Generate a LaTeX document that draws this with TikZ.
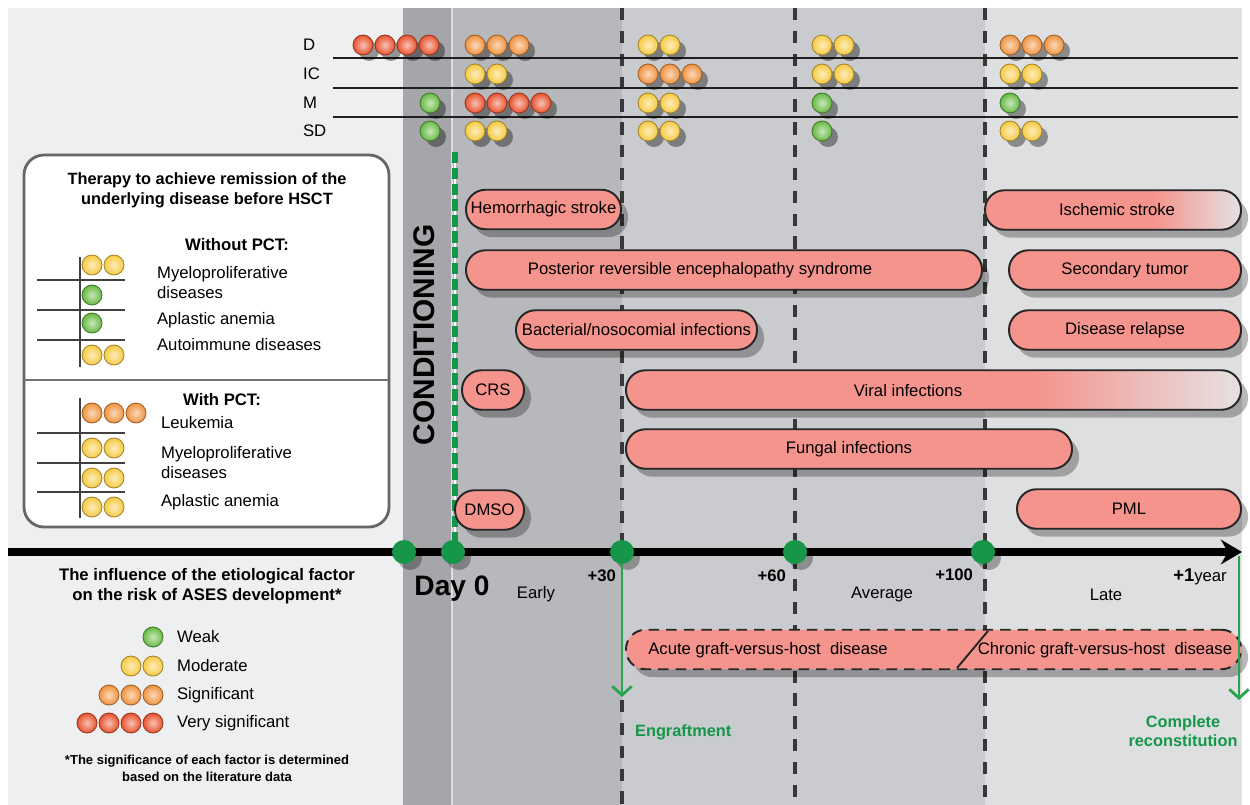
\documentclass[tikz,border=0pt]{standalone}
\usepackage{fontspec}
\setmainfont{Liberation Sans}
\usepackage{xcolor}
\usetikzlibrary{arrows.meta,positioning}
\definecolor{riskred}{RGB}{232, 82, 45}
\definecolor{riskorange}{RGB}{240, 146, 62}
\definecolor{riskyellow}{RGB}{247, 202, 66}
\definecolor{riskgreen}{RGB}{102, 186, 66}
\definecolor{axisgreen}{RGB}{22, 150, 72}
\definecolor{arrowgreen}{RGB}{40, 165, 75}
\definecolor{eventpink}{RGB}{244, 148, 141}
\definecolor{fadegray}{RGB}{229, 225, 225}
\definecolor{panelgray}{RGB}{238, 239, 241}
\definecolor{condgray}{RGB}{164, 166, 169}
\definecolor{earlygray}{RGB}{182, 184, 187}
\definecolor{midgray}{RGB}{201, 203, 206}
\definecolor{lategray}{RGB}{222, 223, 225}
\pgfdeclarehorizontalshading{eventfade}{100bp}{color(0bp)=(eventpink); color(25bp)=(eventpink); color(58bp)=(eventpink); color(75bp)=(fadegray); color(100bp)=(fadegray)}
% row of risk dots: [options]{x}{y}{count}{colour}
\newcommand{\riskdots}[5][]{%
  \foreach \k in {1,...,#4}{%
    \path[#1] ({#2+22*(\k-1)},#3) circle[radius=10];
    \path[riskdot=#5] ({#2+22*(\k-1)},#3) circle[radius=10];}}

\begin{document}
\begin{tikzpicture}[x=0.2mm, y=-0.2mm, >={Stealth[length=12pt,width=14pt,inset=4pt]},
    every node/.style={font=\fontsize{9.5}{11.4}\selectfont, inner sep=1pt},
    event/.style={draw=black!85, line width=1.1pt, fill=eventpink, rounded corners=3.9mm, minimum height=7.9mm, inner sep=0pt,
        preaction={fill=black, draw=none, opacity=0.28, transform canvas={xshift=4pt, yshift=-4.5pt}}},
    riskdot/.style={inner color=#1!35!white, outer color=#1, draw=#1!65!black, line width=0.5pt},
    dotshadow/.style={fill=black, opacity=0.38, transform canvas={xshift=3.4pt, yshift=-3.4pt}},
    periodline/.style={draw=black!78, line width=2pt, dash pattern=on 7pt off 6pt},
    axisdot/.style={circle, fill=axisgreen, minimum size=4.8mm, inner sep=0pt,
        preaction={fill=black, opacity=0.3, transform canvas={xshift=3.4pt, yshift=-3.4pt}}},
    greenarrow/.style={draw=arrowgreen, line width=1.6pt, -{Straight Barb[length=5pt,width=11pt]}},
    gridline/.style={draw=black!75, line width=1.2pt},
    rowline/.style={draw=black!88, line width=1.3pt}]
        \useasboundingbox (0,0) rectangle (1250,805);
        \fill[white] (0,0) rectangle (1250,805);

        % Background bands
        \fill[panelgray] (8,8) rectangle (403,805);
        \fill[condgray] (403,8) rectangle (452,805);
        \fill[earlygray] (452,8) rectangle (622,805);
        \fill[midgray] (622,8) rectangle (985,805);
        \fill[lategray] (985,8) rectangle (1242,805);
        \draw[white, opacity=0.6, line width=0.8pt] (452,8) -- (452,805);

        % Period boundaries
        \draw[periodline] (622,8) -- (622,552);
        \draw[periodline] (622,700) -- (622,805);
        \draw[periodline] (795,8) -- (795,805);
        \draw[periodline] (985,8) -- (985,805);

        % Risk factor rows
        \foreach \lab/\y in {D/45, IC/74, M/103, SD/131}
            \node[anchor=west] (row\lab) at (301,\y) {\lab};
        \foreach \y in {58, 88, 117}
            \draw[rowline] (333,\y) -- (1238,\y);

        \riskdots[dotshadow]{363}{45}{4}{riskred}
        \riskdots[dotshadow]{475}{45}{3}{riskorange}
        \riskdots[dotshadow]{648}{45}{2}{riskyellow}
        \riskdots[dotshadow]{822}{45}{2}{riskyellow}
        \riskdots[dotshadow]{1010}{45}{3}{riskorange}

        \riskdots[dotshadow]{475}{74}{2}{riskyellow}
        \riskdots[dotshadow]{648}{74}{3}{riskorange}
        \riskdots[dotshadow]{822}{74}{2}{riskyellow}
        \riskdots[dotshadow]{1010}{74}{2}{riskyellow}

        \riskdots[dotshadow]{430}{103}{1}{riskgreen}
        \riskdots[dotshadow]{475}{103}{4}{riskred}
        \riskdots[dotshadow]{648}{103}{2}{riskyellow}
        \riskdots[dotshadow]{822}{103}{1}{riskgreen}
        \riskdots[dotshadow]{1010}{103}{1}{riskgreen}

        \riskdots[dotshadow]{430}{131}{1}{riskgreen}
        \riskdots[dotshadow]{475}{131}{2}{riskyellow}
        \riskdots[dotshadow]{648}{131}{2}{riskyellow}
        \riskdots[dotshadow]{822}{131}{1}{riskgreen}
        \riskdots[dotshadow]{1010}{131}{2}{riskyellow}

        % Therapy box
        \node[draw=black!60, line width=1.6pt, fill=white, rounded corners=4mm, minimum width=73mm, minimum height=74.4mm] (therapy) at (206.5,341) {};
        \draw[black!55, line width=0.9pt] (24,380) -- (389,380);
        \node[align=center, font=\fontsize{9.3}{11.4}\selectfont\bfseries] (therapytitle) at (207,190) {Therapy to achieve remission of the\\underlying disease before HSCT};

        \node[font=\fontsize{9.5}{11.4}\selectfont\bfseries] (withoutpct) at (237,245) {Without PCT:};
        \draw[gridline] (80,257) -- (80,367);
        \foreach \y in {280, 310, 340}
            \draw[gridline] (37,\y) -- (125,\y);
        \riskdots{92}{265}{2}{riskyellow}
        \riskdots{92}{295}{1}{riskgreen}
        \riskdots{92}{323}{1}{riskgreen}
        \riskdots{92}{355}{2}{riskyellow}
        \node[anchor=west, align=left] (womyelo) at (155,283) {Myeloproliferative\\diseases};
        \node[anchor=west] (woaplastic) at (155,320) {Aplastic anemia};
        \node[anchor=west] (woauto) at (155,345) {Autoimmune diseases};

        \node[font=\fontsize{9.5}{11.4}\selectfont\bfseries] (withpct) at (222,400) {With PCT:};
        \draw[gridline] (80,398) -- (80,518);
        \foreach \y in {433, 463, 492}
            \draw[gridline] (37,\y) -- (125,\y);
        \riskdots{92}{413}{3}{riskorange}
        \riskdots{92}{448}{2}{riskyellow}
        \riskdots{92}{478}{2}{riskyellow}
        \riskdots{92}{507}{2}{riskyellow}
        \node[anchor=west] (wleuk) at (159,423) {Leukemia};
        \node[anchor=west, align=left] (wmyelo) at (159,463) {Myeloproliferative\\diseases};
        \node[anchor=west] (waplastic) at (159,502) {Aplastic anemia};

        % Influence legend
        \node[align=center, font=\fontsize{9.5}{11.4}\selectfont\bfseries] (influence) at (207,586) {The influence of the etiological factor\\on the risk of ASES development*};
        \riskdots{153}{637}{1}{riskgreen}
        \riskdots{131}{666}{2}{riskyellow}
        \riskdots{109}{695}{3}{riskorange}
        \riskdots{87}{723}{4}{riskred}
        \node[anchor=west] (weak) at (175,637) {Weak};
        \node[anchor=west] (moderate) at (175,666) {Moderate};
        \node[anchor=west] (significant) at (175,695) {Significant};
        \node[anchor=west] (verysig) at (175,723) {Very significant};
        \node[align=center, font=\fontsize{7.4}{9.6}\selectfont\bfseries] (footnote) at (207,768) {*The significance of each factor is determined\\based on the literature data};

        % Conditioning
        \node[rotate=90, font=\fontsize{17}{20}\selectfont\bfseries] (cond) at (424,335) {CONDITIONING};
        \draw[white, line width=1pt] (455,152) -- (455,546);
        \draw[axisgreen, line width=3.4pt, dash pattern=on 6.5pt off 2.5pt] (455,152) -- (455,546);

        % Complications
        \node[event, minimum width=31mm] (hemo) at (543.5,209.5) {Hemorrhagic stroke};
        \node[event, minimum width=103.2mm] (pres) at (724,270) {};
        \node (prestext) at (700,270) {Posterior reversible encephalopathy syndrome};
        \node[event, minimum width=48.2mm] (bact) at (636.5,330) {Bacterial/nosocomial infections};
        \node[event, minimum width=12.4mm] (crs) at (493,390) {CRS};
        \node[event, shading=eventfade, minimum width=123mm] (viral) at (933.5,390) {};
        \node (viraltext) at (908,391) {Viral infections};
        \node[event, minimum width=89.2mm] (fungal) at (849,449) {Fungal infections};
        \node[event, minimum width=13.8mm] (dmso) at (489.5,510) {DMSO};
        \node[event, shading=eventfade, minimum width=51.2mm] (isch) at (1113,210) {};
        \node (ischtext) at (1117,210) {Ischemic stroke};
        \node[event, minimum width=46.4mm] (tumor) at (1125,270) {Secondary tumor};
        \node[event, minimum width=46.4mm] (relapse) at (1125,330) {Disease relapse};
        \node[event, minimum width=44.8mm] (pml) at (1129,509) {PML};

        % Graft-versus-host disease
        \node[event, dash pattern=on 6pt off 4pt, minimum width=123mm] (gvhd) at (933.5,649.5) {};
        \draw[black!85, line width=1.1pt] (988,631) -- (957,668);
        \node (acute) at (768,650) {Acute graft-versus-host\ \ disease};
        \node (chronic) at (1105,650) {Chronic graft-versus-host\ \ disease};

        % Time axis
        \coordinate (axstart) at (8,552);
        \coordinate (axend) at (1242,552);
        \draw[line width=4pt, ->] (axstart) -- (axend);
        \node[axisdot] (dcond) at (404,552) {};
        \node[axisdot] (dzero) at (453,552) {};
        \node[axisdot] (dthirty) at (622,552) {};
        \node[axisdot] (dsixty) at (795,552) {};
        \node[axisdot] (dhundred) at (983,552) {};

        % Milestones
        \coordinate (engrend) at (622,697);
        \coordinate (yearstart) at (1239,556);
        \coordinate (yearend) at (1239,700);
        \draw[greenarrow] (dthirty.south) -- (engrend);
        \draw[greenarrow] (yearstart) -- (yearend);
        \node[anchor=west, text=axisgreen, font=\fontsize{9.3}{11.4}\selectfont\bfseries] (engr) at (633,732) {Engraftment};
        \node[align=center, text=axisgreen, font=\fontsize{9.3}{10.8}\selectfont\bfseries] (recon) at (1183,731) {Complete\\reconstitution};

        % Axis labels
        \node[font=\fontsize{16}{18}\selectfont\bfseries] (dayzero) at (452,589) {Day 0};
        \node (early) at (536,594) {Early};
        \node (average) at (882,594) {Average};
        \node (late) at (1106,595) {Late};
        \node[anchor=east, font=\fontsize{9.5}{11.4}\selectfont\bfseries] (plusthirty) at (618,576) {+30};
        \node[anchor=east, font=\fontsize{9.5}{11.4}\selectfont\bfseries] (plussixty) at (788,576) {+60};
        \node[anchor=east, font=\fontsize{9.5}{11.4}\selectfont\bfseries] (plushundred) at (975,575) {+100};
        \node (plusyear) at (1200,577) {{\fontsize{10.5}{12}\selectfont\bfseries +1}year};
\end{tikzpicture}
\end{document}
